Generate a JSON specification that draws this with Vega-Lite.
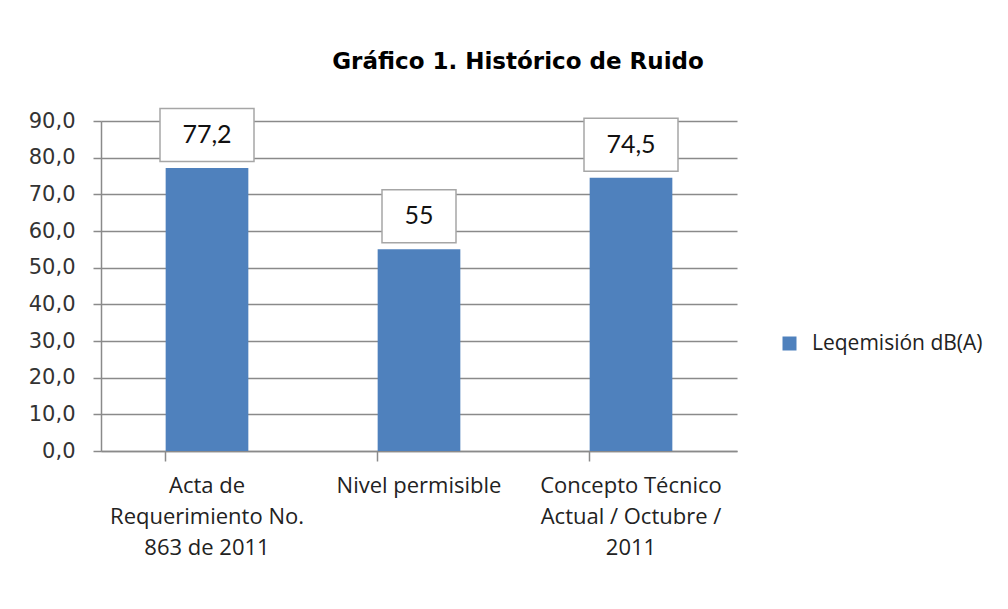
{
  "$schema": "https://vega.github.io/schema/vega-lite/v6.json",
  "autosize": "none",
  "width": 636,
  "height": 330,
  "padding": {"left": 101, "top": 121, "right": 271, "bottom": 158},
  "background": "white",
  "title": {
    "text": "Gráfico 1. Histórico de Ruido",
    "font": "DejaVu Sans",
    "fontSize": 23,
    "fontWeight": "bold",
    "color": "#000000",
    "anchor": "middle",
    "baseline": "alphabetic",
    "dx": 99,
    "offset": 13
  },
  "data": {
    "values": [
      {"categoria": "Acta de|Requerimiento No.|863 de 2011", "valor": 77.2, "label": "77,2", "serie": "Leqemisión dB(A)"},
      {"categoria": "Nivel permisible", "valor": 55, "label": "55", "serie": "Leqemisión dB(A)"},
      {"categoria": "Concepto Técnico|Actual / Octubre /|2011", "valor": 74.5, "label": "74,5", "serie": "Leqemisión dB(A)"}
    ]
  },
  "encoding": {
    "x": {
      "field": "categoria",
      "type": "nominal",
      "sort": null,
      "scale": {"paddingInner": 0.61, "paddingOuter": 0.305},
      "axis": {
        "title": null,
        "labelAngle": 0,
        "labelExpr": "split(datum.label, '|')",
        "labelFont": "Open Sans",
        "labelFontSize": 22,
        "labelColor": "#222222",
        "labelLineHeight": 31,
        "labelPadding": 14,
        "labelLimit": 300,
        "bandPosition": 0,
        "tickSize": 10,
        "tickColor": "#8a8a8a",
        "tickWidth": 1.5,
        "domainColor": "#8a8a8a",
        "domainWidth": 1.5,
        "grid": false
      }
    },
    "y": {
      "field": "valor",
      "type": "quantitative",
      "scale": {"domain": [0, 90], "nice": false},
      "axis": {
        "title": null,
        "values": [0, 10, 20, 30, 40, 50, 60, 70, 80, 90],
        "labelExpr": "replace(format(datum.value, '.1f'), '.', ',')",
        "labelFont": "DejaVu Sans",
        "labelFontSize": 21,
        "labelColor": "#333333",
        "labelPadding": 18,
        "tickSize": 8,
        "tickColor": "#8a8a8a",
        "tickWidth": 1.5,
        "domainColor": "#8a8a8a",
        "domainWidth": 1.5,
        "gridColor": "#8a8a8a",
        "gridWidth": 1.5
      }
    }
  },
  "layer": [
    {
      "mark": {"type": "bar"},
      "encoding": {
        "color": {
          "field": "serie",
          "type": "nominal",
          "scale": {"range": ["#4F81BD"]},
          "legend": {
            "title": null,
            "orient": "none",
            "legendX": 678,
            "legendY": 212,
            "padding": 0,
            "symbolType": "square",
            "symbolSize": 196,
            "symbolStrokeWidth": 0,
            "labelFont": "Open Sans",
            "labelFontSize": 21,
            "labelColor": "#222222",
            "labelOffset": 12,
            "labelLimit": 300
          }
        }
      }
    },
    {
      "mark": {"type": "point", "filled": true, "fill": "white", "stroke": "#a6a6a6", "strokeWidth": 1.5, "opacity": 1},
      "encoding": {
        "shape": {
          "condition": {"test": "datum.label == '55'", "value": "M-1,-0.716H1V0.716H-1Z"},
          "value": "M-1,-0.564H1V0.564H-1Z"
        },
        "size": {
          "condition": {"test": "datum.label == '55'", "value": 5476},
          "value": 8836
        },
        "yOffset": {
          "condition": {"test": "datum.label == '55'", "value": -38},
          "value": -33
        }
      }
    },
    {
      "mark": {"type": "text", "font": "Lato", "fontSize": 25, "color": "#111111", "baseline": "middle", "align": "center"},
      "encoding": {
        "text": {"field": "label"},
        "yOffset": {
          "condition": {"test": "datum.label == '55'", "value": -38},
          "value": -33
        }
      }
    }
  ],
  "config": {
    "view": {"stroke": null}
  }
}
